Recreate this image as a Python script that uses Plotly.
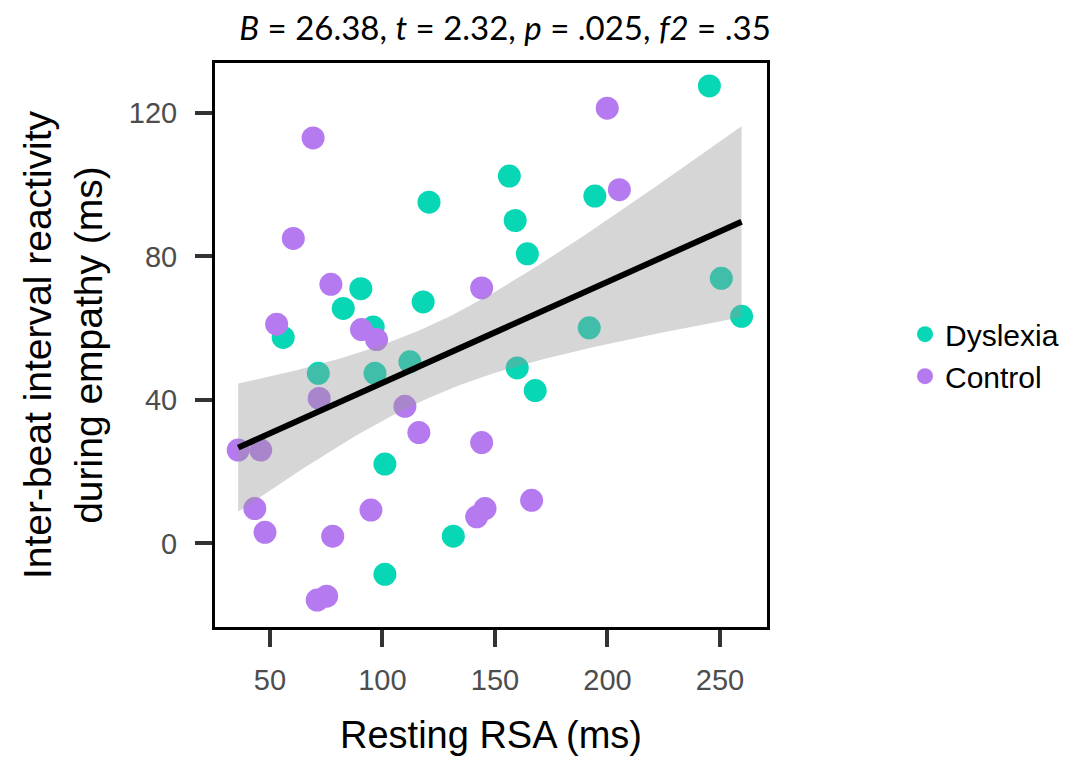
import numpy as np
import plotly.graph_objects as go

# Resting RSA (ms) and IBI reactivity (ms)
dyslexia_x = [120.7, 90.4, 82.6, 118.1, 55.9, 95.9, 245.3, 156.4, 194.4, 159.0, 164.4,
              250.6, 259.6, 191.9, 71.5, 96.7, 112.2, 101.1, 131.5, 101.1, 159.9, 167.9]
dyslexia_y = [95.1, 71.0, 65.5, 67.3, 57.4, 60.3, 127.5, 102.4, 96.8, 90.0, 80.7,
              73.9, 63.3, 60.1, 47.4, 47.4, 50.6, 22.1, 2.0, -8.6, 48.9, 42.6]

control_x = [69.2, 60.4, 77.1, 144.1, 53.0, 90.7, 97.4, 199.9, 205.3, 71.9, 110.0, 35.9,
             45.9, 116.2, 144.1, 43.3, 47.8, 94.9, 77.9, 71.0, 75.2, 141.9, 145.6, 166.3]
control_y = [113.0, 85.0, 72.2, 71.2, 61.1, 59.6, 56.8, 121.3, 98.6, 40.4, 38.2, 26.0,
             26.0, 30.9, 28.1, 9.7, 3.1, 9.3, 2.0, -15.8, -14.7, 7.4, 9.7, 12.0]

x_ticks = [50, 100, 150, 200, 250]
y_ticks = [0, 40, 80, 120]

TEAL = "#07D7B5"
PURPLE = "#B57AEF"
FONT = "Liberation Sans, Arial, sans-serif"


def linear_fit_band(x, y, n_grid=80):
    """OLS fit with 95% confidence band, as in geom_smooth(method = 'lm')."""
    x = np.asarray(x, dtype=float)
    y = np.asarray(y, dtype=float)
    n = len(x)
    slope, intercept = np.polyfit(x, y, 1)
    resid = y - (intercept + slope * x)
    s = np.sqrt(np.sum(resid ** 2) / (n - 2))
    grid = np.linspace(x.min(), x.max(), n_grid)
    fit = intercept + slope * grid
    se = s * np.sqrt(1 / n + (grid - x.mean()) ** 2 / np.sum((x - x.mean()) ** 2))
    t_crit = 2.0154  # t(0.975, df = 44)
    return grid, fit, fit - t_crit * se, fit + t_crit * se


all_x = dyslexia_x + control_x
all_y = dyslexia_y + control_y
grid, fit, lower, upper = linear_fit_band(all_x, all_y)

fig = go.Figure()

fig.add_trace(go.Scatter(
    x=dyslexia_x, y=dyslexia_y, mode="markers", name="Dyslexia", legendgroup="d",
    marker=dict(color=TEAL, size=23, line=dict(width=0)),
))
fig.add_trace(go.Scatter(
    x=control_x, y=control_y, mode="markers", name="Control", legendgroup="c",
    marker=dict(color=PURPLE, size=23, line=dict(width=0)),
))

# confidence band drawn over the points, like ggplot
fig.add_trace(go.Scatter(
    x=grid, y=lower, mode="lines", line=dict(width=0),
    showlegend=False, hoverinfo="skip",
))
fig.add_trace(go.Scatter(
    x=grid, y=upper, mode="lines", line=dict(width=0),
    fill="tonexty", fillcolor="rgba(153,153,153,0.4)",
    showlegend=False, hoverinfo="skip",
))
fig.add_trace(go.Scatter(
    x=grid, y=fit, mode="lines", line=dict(color="black", width=6),
    showlegend=False, hoverinfo="skip",
))

axis_common = dict(
    showline=True, linecolor="black", linewidth=3, mirror=True,
    ticks="outside", ticklen=17, tickwidth=4, tickcolor="#333333",
    showgrid=False, zeroline=False,
    tickfont=dict(family=FONT, size=29, color="#4D4D4D"),
)

fig.update_xaxes(
    range=[25.6, 270.9], tickvals=x_ticks, ticklabelstandoff=8,
    title=dict(text="Resting RSA (ms)", font=dict(family=FONT, size=38, color="black"),
               standoff=27),
    **axis_common,
)
fig.update_yaxes(
    range=[-23.3, 133.9], tickvals=y_ticks, ticklabelstandoff=12,
    title=dict(text="Inter-beat interval reactivity<br>during empathy (ms)",
               font=dict(family=FONT, size=39, color="black"), standoff=15),
    **axis_common,
)

fig.update_layout(
    width=1084, height=759,
    margin=dict(l=207, r=325, t=55, b=140, autoexpand=False),
    paper_bgcolor="white", plot_bgcolor="white",
    title=dict(
        text="<i>B</i> = 26.38, <i>t</i> = 2.32, <i>p</i> = .025, <i>f2</i> = .35",
        font=dict(family="Lato, Open Sans, sans-serif", size=33, color="black"),
        x=0.4585, xanchor="center", y=0.9736, yanchor="middle",
    ),
    legend=dict(
        x=1.25, y=0.482, xanchor="left", yanchor="middle",
        font=dict(family=FONT, size=30, color="black"),
        traceorder="normal", itemsizing="trace", tracegroupgap=7,
        bgcolor="rgba(0,0,0,0)",
    ),
    showlegend=True,
)

fig.write_html("out.html")
